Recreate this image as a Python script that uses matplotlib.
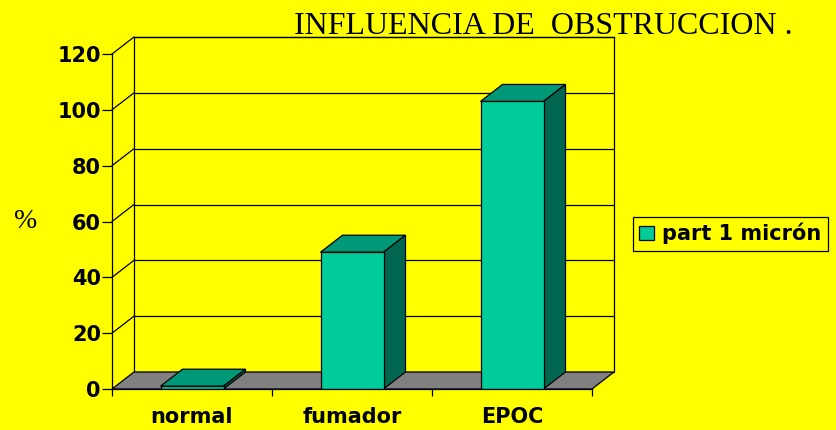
import matplotlib
matplotlib.use('Agg')
from matplotlib import pyplot as plt
from matplotlib.patches import Polygon, Rectangle

categories = ['normal', 'fumador', 'EPOC']
values = [1, 49, 103]
series_name = 'part 1 micrón'
y_ticks = [0, 20, 40, 60, 80, 100, 120]
title = 'INFLUENCIA DE  OBSTRUCCION .'

yellow = '#FFFF00'
front_col = '#00CC99'
top_col = '#009977'
side_col = '#006650'
floor_col = '#808080'

W, H = 836, 430
fig = plt.figure(figsize=(W / 100, H / 100), dpi=100, facecolor=yellow)
ax = fig.add_axes([112 / W, 41 / H, 480 / W, 335 / H])
ax.set_facecolor('none')
ax.set_xlim(-0.5, 2.5)
ax.set_ylim(0, 120)

# depth of the fake 3d box, in data units
dx = 22 / 160
dy = 17 / (335 / 120)
lw = 0.9

# back wall + gridlines
ax.add_patch(Rectangle((-0.5 + dx, dy), 3, 120, facecolor=yellow,
                       edgecolor='black', lw=lw, clip_on=False, zorder=0))
for v in y_ticks[1:]:
    ax.plot([-0.5 + dx, 2.5 + dx], [v + dy, v + dy], color='black', lw=lw,
            clip_on=False, zorder=1)
    ax.plot([-0.5, -0.5 + dx], [v, v + dy], color='black', lw=lw,
            clip_on=False, zorder=1)

# floor
ax.add_patch(Polygon([(-0.5, 0), (2.5, 0), (2.5 + dx, dy), (-0.5 + dx, dy)],
                     closed=True, facecolor=floor_col, edgecolor='black',
                     lw=lw, clip_on=False, zorder=2))

# bars
width = 63 / 160
bars = ax.bar(range(len(categories)), values, width, color=front_col,
              edgecolor='black', lw=lw, label=series_name, zorder=5)
for b in bars:
    x0, x1 = b.get_x(), b.get_x() + b.get_width()
    h = b.get_height()
    ax.add_patch(Polygon([(x0, h), (x1, h), (x1 + dx, h + dy), (x0 + dx, h + dy)],
                         closed=True, facecolor=top_col, edgecolor='black',
                         lw=lw, clip_on=False, zorder=4))
    ax.add_patch(Polygon([(x1, 0), (x1 + dx, dy), (x1 + dx, h + dy), (x1, h)],
                         closed=True, facecolor=side_col, edgecolor='black',
                         lw=lw, clip_on=False, zorder=4))

for s in ['top', 'right']:
    ax.spines[s].set_visible(False)
for s in ['left', 'bottom']:
    ax.spines[s].set_linewidth(lw)
    ax.spines[s].set_zorder(6)

ax.set_yticks(y_ticks)
ax.set_yticklabels([str(t) for t in y_ticks], fontsize=15, fontweight='bold',
                   family='DejaVu Sans')
ax.tick_params(axis='y', length=7, width=lw, pad=1)
ax.set_xticks(range(len(categories)))
ax.set_xticklabels(categories, fontsize=15, fontweight='bold', family='DejaVu Sans')
ax.tick_params(axis='x', which='major', length=0, pad=13)
ax.set_xticks([-0.5, 0.5, 1.5, 2.5], minor=True)
ax.tick_params(axis='x', which='minor', length=5, width=lw)

fig.text(294 / W, 1 - 34 / H, title, family='Liberation Serif', fontsize=23,
         ha='left', va='baseline')
fig.text(26 / W, 1 - 222 / H, '%', family='Liberation Serif', fontsize=20,
         ha='center', va='center')

leg = fig.legend(handles=[bars[0]], labels=[series_name], loc='center left',
                 bbox_to_anchor=(633 / W, 1 - 233.5 / H), frameon=True,
                 fancybox=False, facecolor=yellow, edgecolor='black',
                 framealpha=1, borderpad=0.3, borderaxespad=0,
                 handlelength=0.7, handleheight=0.7, handletextpad=0.4,
                 prop={'family': 'DejaVu Sans', 'weight': 'bold', 'size': 15})
leg.get_frame().set_linewidth(lw)

fig.savefig('out.png', dpi=100, facecolor=yellow)
